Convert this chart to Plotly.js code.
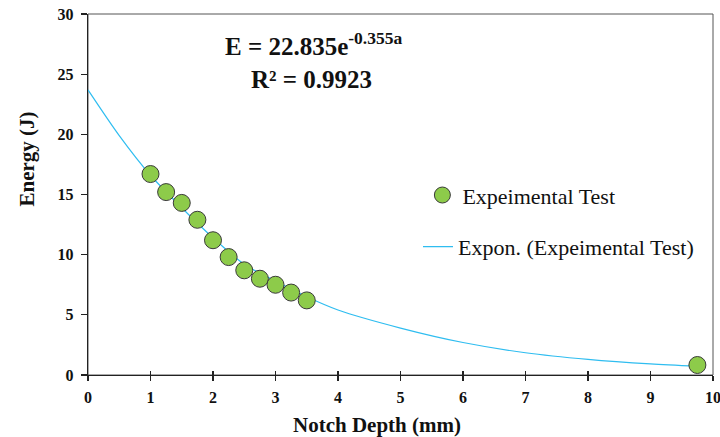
<!DOCTYPE html>
<html>
<head>
<meta charset="utf-8">
<script src="https://cdn.plot.ly/plotly-3.0.1.min.js"></script>
<style>html,body{margin:0;padding:0;background:#fff;}#chart{width:720px;height:437px;}</style>
</head>
<body>
<div id="chart"></div>
<script>
// Experimental data
const notchDepth = [1, 1.25, 1.5, 1.75, 2, 2.25, 2.5, 2.75, 3, 3.25, 3.5, 9.75];
const energy = [16.7, 15.2, 14.3, 12.9, 11.2, 9.8, 8.7, 8.0, 7.5, 6.85, 6.2, 0.83];
// Exponential trendline as drawn
const trendX = [0, 0.5, 1, 1.5, 2, 2.5, 3, 3.5, 4, 5, 6, 7, 8, 9, 9.75];
const trendY = [23.7, 19.9, 16.6, 13.9, 11.4, 9.2, 7.8, 6.5, 5.4, 3.9, 2.7, 1.85, 1.3, 0.92, 0.72];
const xTicks = [0, 1, 2, 3, 4, 5, 6, 7, 8, 9, 10];
const yTicks = [0, 5, 10, 15, 20, 25, 30];
const seriesName = 'Expeimental Test';
const trendName = 'Expon. (Expeimental Test)';
const eqLine1 = 'E = 22.835e<sup>-0.355a</sup>';
const eqLine2 = 'R² = 0.9923';

const serif = '"Liberation Serif", "Times New Roman", serif';

const traces = [
  {
    x: trendX, y: trendY, type: 'scatter', mode: 'lines',
    name: trendName, line: {color: '#2fbdf0', width: 1.2, shape: 'spline', smoothing: 0.8},
    legend: 'legend2', hoverinfo: 'skip'
  },
  {
    x: notchDepth, y: energy, type: 'scatter', mode: 'markers',
    name: seriesName, legend: 'legend',
    marker: {size: 17, color: '#8dcb4a', line: {color: '#3a3a3a', width: 1}}
  },
  {
    // invisible trace to carry the inner half of the crossing x ticks
    x: [0], y: [0], xaxis: 'x2', type: 'scatter', mode: 'markers',
    marker: {opacity: 0}, showlegend: false, hoverinfo: 'skip'
  }
];

const layout = {
  width: 720, height: 437,
  margin: {l: 88, r: 7, t: 14, b: 62},
  paper_bgcolor: '#fff', plot_bgcolor: '#fff',
  font: {family: serif, color: '#111'},
  showlegend: true,
  xaxis: {
    range: [0, 10], tickvals: xTicks, ticktext: xTicks.map(String),
    showgrid: false, zeroline: false,
    showline: true, linecolor: '#222', linewidth: 1.3,
    ticks: 'outside', ticklen: 5, tickwidth: 1.2, tickcolor: '#222',
    ticklabeloverflow: 'allow', ticklabelstandoff: 2,
    tickfont: {family: serif, size: 16, color: '#111', weight: 'bold'}
  },
  xaxis2: {
    overlaying: 'x', matches: 'x', range: [0, 10], tickvals: xTicks,
    showticklabels: false, showgrid: false, zeroline: false, showline: false,
    ticks: 'inside', ticklen: 4, tickwidth: 1.2, tickcolor: '#222', side: 'bottom'
  },
  yaxis: {
    range: [0, 30], tickvals: yTicks, ticktext: yTicks.map(String),
    showgrid: false, zeroline: false,
    showline: true, linecolor: '#222', linewidth: 1.3,
    ticks: 'outside', ticklen: 6, tickwidth: 1.2, tickcolor: '#222',
    ticklabelstandoff: 4,
    tickfont: {family: serif, size: 16, color: '#111', weight: 'bold'}
  },
  shapes: [
    {type: 'rect', xref: 'x domain', yref: 'y domain', x0: 0, x1: 1, y0: 0, y1: 1,
     line: {color: '#555', width: 1}, layer: 'below'}
  ],
  legend: {
    x: 0.535, y: 0.498, xanchor: 'left', yanchor: 'middle',
    bgcolor: 'rgba(0,0,0,0)', borderwidth: 0,
    font: {family: serif, size: 22, color: '#111'}
  },
  legend2: {
    x: 0.528, y: 0.355, xanchor: 'left', yanchor: 'middle',
    bgcolor: 'rgba(0,0,0,0)', borderwidth: 0,
    font: {family: serif, size: 22, color: '#111'}
  },
  annotations: [
    {text: eqLine1, xref: 'paper', yref: 'paper', x: 0.36, y: 0.917, xanchor: 'center', yanchor: 'middle',
     showarrow: false, font: {family: serif, size: 25, color: '#111', weight: 'bold'}},
    {text: eqLine2, xref: 'paper', yref: 'paper', x: 0.358, y: 0.818, xanchor: 'center', yanchor: 'middle',
     showarrow: false, font: {family: serif, size: 25, color: '#111', weight: 'bold'}},
    {text: 'Energy (J)', xref: 'paper', yref: 'paper', x: -0.097, y: 0.598, xanchor: 'center', yanchor: 'middle',
     textangle: -90, showarrow: false, font: {family: serif, size: 21, color: '#111', weight: 'bold'}},
    {text: 'Notch Depth (mm)', xref: 'paper', yref: 'paper', x: 0.462, y: -0.138, xanchor: 'center', yanchor: 'middle',
     showarrow: false, font: {family: serif, size: 21, color: '#111', weight: 'bold'}}
  ]
};

Plotly.newPlot('chart', traces, layout, {staticPlot: true, displayModeBar: false});
</script>
</body>
</html>
